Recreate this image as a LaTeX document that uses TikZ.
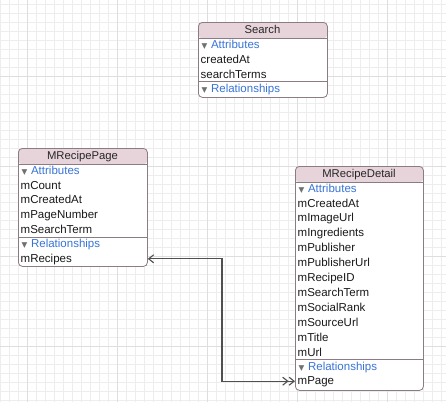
\documentclass[tikz,border=0pt]{standalone}
\usepackage{fontspec}
\setmainfont{Liberation Sans}
\newfontfamily\dvfont{DejaVu Sans}
\usetikzlibrary{arrows.meta}
\definecolor{hdrfill}{HTML}{E7D4DB}
\definecolor{bordercol}{HTML}{8B7B82}
\definecolor{secblue}{HTML}{3874D6}
\definecolor{trigray}{HTML}{707070}
\definecolor{gridminor}{HTML}{EDEDED}
\definecolor{gridmajor}{HTML}{DEDEDE}
\definecolor{relcol}{HTML}{505050}
\newcommand{\sectri}{{\dvfont\fontsize{7.5}{7.5}\selectfont\color{trigray}▼}\hspace{3.6pt}}
\tikzset{
  entity/.style n args={2}{rectangle, rounded corners=4pt, draw=bordercol, line width=0.8pt,
    fill=white, anchor=north west, minimum width=#1, minimum height=#2, inner sep=0pt,
    path picture={
      \fill[hdrfill] (path picture bounding box.north west) rectangle ([yshift=-16pt]path picture bounding box.north east);
      \draw[bordercol, line width=0.8pt] ([yshift=-16pt]path picture bounding box.north west) -- ([yshift=-16pt]path picture bounding box.north east);
    }},
  hdrtext/.style={font=\fontsize{11.3}{13}\selectfont, text=black!85, inner sep=0pt, text height=8pt, text depth=2pt},
  row/.style={anchor=west, font=\fontsize{11.5}{13}\selectfont, text=black!90, inner xsep=0pt, inner ysep=0pt, text height=8.5pt, text depth=2pt},
  secrow/.style={row, text=secblue},
  sepline/.style={draw=bordercol, line width=0.8pt},
  relline/.style={draw=relcol, line width=1.1pt,
    {Straight Barb[length=5pt,width=8pt]}-{Straight Barb[length=5pt,width=8pt] Straight Barb[length=5pt,width=8pt]}},
}
\begin{document}
\begin{tikzpicture}[x=1pt, y=-1pt]
\useasboundingbox[fill=white] (0,0) rectangle (446,402);
% grid
\foreach \gx in {0,9,...,441} \draw[gridminor, line width=0.8pt] (\gx,0) -- (\gx,402);
\foreach \gy in {4,13,...,400} \draw[gridminor, line width=0.8pt] (0,\gy) -- (446,\gy);
\foreach \gx in {27,117,207,297,387} \draw[gridmajor, line width=0.8pt] (\gx,0) -- (\gx,402);
\foreach \gy in {76,166,256,346} \draw[gridmajor, line width=0.8pt] (0,\gy) -- (446,\gy);

% ---- Search ----
\node[entity={129pt}{75pt}] (search) at (198,22) {};
\node[hdrtext] (searchhdr) at (262.5,30) {Search};
\node[secrow] (sattr) at (201.5,45.5) {\sectri Attributes};
\node[row] (screated) at (200.5,60) {createdAt};
\node[row] (sterms) at (200.5,74.8) {searchTerms};
\draw[sepline] (search.west |- 0,81.6) -- (search.east |- 0,81.6);
\node[secrow] (srel) at (201.5,89) {\sectri Relationships};

% ---- MRecipePage ----
\node[entity={129pt}{118pt}] (mrp) at (18,148) {};
\node[hdrtext] (mrphdr) at (82.5,156) {MRecipePage};
\node[secrow] (pattr) at (21.5,171.5) {\sectri Attributes};
\node[row] (pcount) at (20.5,186) {mCount};
\node[row] (pcreated) at (20.5,200.7) {mCreatedAt};
\node[row] (pnumber) at (20.5,215.4) {mPageNumber};
\node[row] (psearch) at (20.5,230.1) {mSearchTerm};
\draw[sepline] (mrp.west |- 0,237) -- (mrp.east |- 0,237);
\node[secrow] (prel) at (21.5,244.4) {\sectri Relationships};
\node[row] (recipes) at (20.5,258.8) {mRecipes};

% ---- MRecipeDetail ----
\node[entity={128pt}{224pt}] (mrd) at (295,166) {};
\node[hdrtext] (mrdhdr) at (359,174) {MRecipeDetail};
\node[secrow] (dattr) at (298.5,189.4) {\sectri Attributes};
\node[row] (d1) at (297.5,203.8) {mCreatedAt};
\node[row] (d2) at (297.5,218.7) {mImageUrl};
\node[row] (d3) at (297.5,233.6) {mIngredients};
\node[row] (d4) at (297.5,248.5) {mPublisher};
\node[row] (d5) at (297.5,263.4) {mPublisherUrl};
\node[row] (d6) at (297.5,278.3) {mRecipeID};
\node[row] (d7) at (297.5,293.2) {mSearchTerm};
\node[row] (d8) at (297.5,308.1) {mSocialRank};
\node[row] (d9) at (297.5,323.0) {mSourceUrl};
\node[row] (d10) at (297.5,337.9) {mTitle};
\node[row] (d11) at (297.5,352.8) {mUrl};
\draw[sepline] (mrd.west |- 0,359.6) -- (mrd.east |- 0,359.6);
\node[secrow] (drel) at (298.5,367) {\sectri Relationships};
\node[row] (page) at (297.5,381.2) {mPage};

% ---- relationship ----
\coordinate (jog) at (222,0);
\draw[relline] (mrp.east |- recipes.west) -- (jog |- recipes.west) |- (mrd.west |- page.west);
\end{tikzpicture}
\end{document}
